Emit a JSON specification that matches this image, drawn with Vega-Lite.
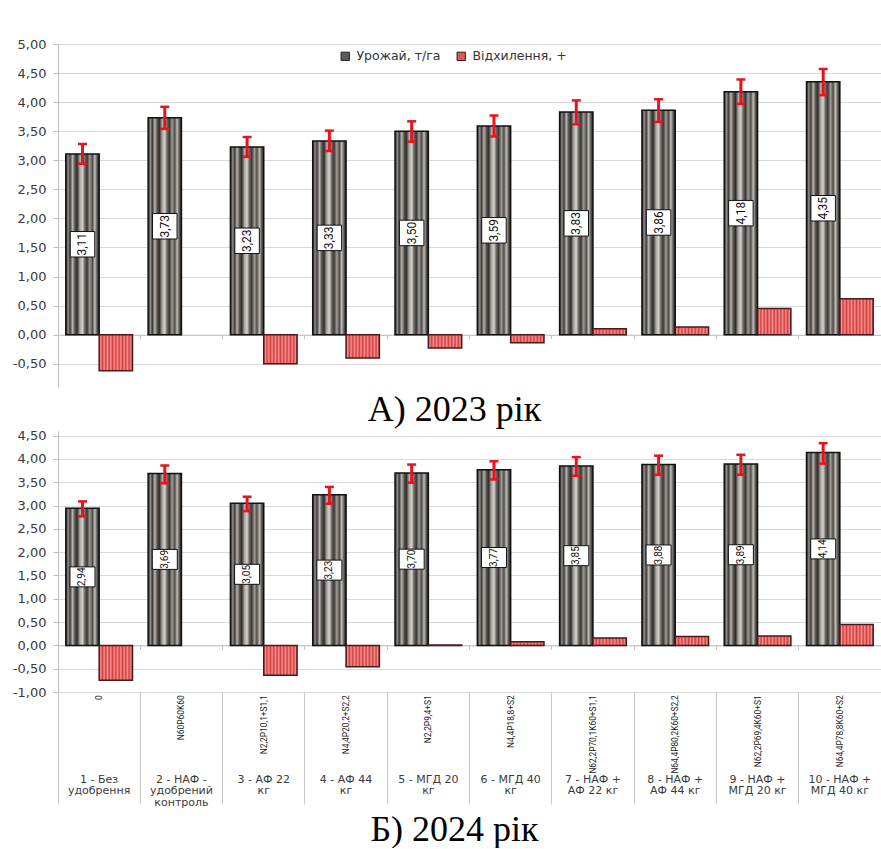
{
  "$schema": "https://vega.github.io/schema/vega-lite/v6.json",
  "background": "white",
  "padding": {"left": 12, "top": 38, "right": 0, "bottom": 0},
  "config": {
    "locale": {"number": {"decimal": ",", "thousands": " ", "grouping": [3], "currency": ["", ""], "minus": "-"}},
    "view": {"stroke": null},
    "axis": {
      "labelFont": "DejaVu Sans",
      "labelFontSize": 13,
      "labelColor": "#3a3a3a",
      "labelOverlap": false,
      "gridColor": "#d9d9d9",
      "domainColor": "#bdbdbd",
      "tickColor": "#bdbdbd"
    },
    "axisY": {"labelOverlap": false},
    "text": {"lineBreak": "\n"}
  },
  "datasets": {
    "y2023": [
      {"n": 1, "series": "Урожай, т/га", "value": 3.11, "lo": 2.94, "hi": 3.28},
      {"n": 1, "series": "Відхилення, +", "value": -0.62},
      {"n": 2, "series": "Урожай, т/га", "value": 3.73, "lo": 3.54, "hi": 3.92},
      {"n": 2, "series": "Відхилення, +", "value": 0.0},
      {"n": 3, "series": "Урожай, т/га", "value": 3.23, "lo": 3.06, "hi": 3.40},
      {"n": 3, "series": "Відхилення, +", "value": -0.50},
      {"n": 4, "series": "Урожай, т/га", "value": 3.33, "lo": 3.16, "hi": 3.51},
      {"n": 4, "series": "Відхилення, +", "value": -0.40},
      {"n": 5, "series": "Урожай, т/га", "value": 3.50, "lo": 3.32, "hi": 3.67},
      {"n": 5, "series": "Відхилення, +", "value": -0.23},
      {"n": 6, "series": "Урожай, т/га", "value": 3.59, "lo": 3.41, "hi": 3.77},
      {"n": 6, "series": "Відхилення, +", "value": -0.14},
      {"n": 7, "series": "Урожай, т/га", "value": 3.83, "lo": 3.62, "hi": 4.03},
      {"n": 7, "series": "Відхилення, +", "value": 0.10},
      {"n": 8, "series": "Урожай, т/га", "value": 3.86, "lo": 3.66, "hi": 4.05},
      {"n": 8, "series": "Відхилення, +", "value": 0.13},
      {"n": 9, "series": "Урожай, т/га", "value": 4.18, "lo": 3.97, "hi": 4.39},
      {"n": 9, "series": "Відхилення, +", "value": 0.45},
      {"n": 10, "series": "Урожай, т/га", "value": 4.35, "lo": 4.12, "hi": 4.57},
      {"n": 10, "series": "Відхилення, +", "value": 0.62}
    ],
    "y2024": [
      {"n": 1, "series": "Урожай, т/га", "value": 2.94, "lo": 2.77, "hi": 3.09},
      {"n": 1, "series": "Відхилення, +", "value": -0.75},
      {"n": 2, "series": "Урожай, т/га", "value": 3.69, "lo": 3.48, "hi": 3.86},
      {"n": 2, "series": "Відхилення, +", "value": 0.0},
      {"n": 3, "series": "Урожай, т/га", "value": 3.05, "lo": 2.88, "hi": 3.19},
      {"n": 3, "series": "Відхилення, +", "value": -0.64},
      {"n": 4, "series": "Урожай, т/га", "value": 3.23, "lo": 3.04, "hi": 3.40},
      {"n": 4, "series": "Відхилення, +", "value": -0.46},
      {"n": 5, "series": "Урожай, т/га", "value": 3.70, "lo": 3.49, "hi": 3.88},
      {"n": 5, "series": "Відхилення, +", "value": 0.01},
      {"n": 6, "series": "Урожай, т/га", "value": 3.77, "lo": 3.56, "hi": 3.95},
      {"n": 6, "series": "Відхилення, +", "value": 0.08},
      {"n": 7, "series": "Урожай, т/га", "value": 3.85, "lo": 3.64, "hi": 4.04},
      {"n": 7, "series": "Відхилення, +", "value": 0.16},
      {"n": 8, "series": "Урожай, т/га", "value": 3.88, "lo": 3.66, "hi": 4.07},
      {"n": 8, "series": "Відхилення, +", "value": 0.19},
      {"n": 9, "series": "Урожай, т/га", "value": 3.89, "lo": 3.66, "hi": 4.09},
      {"n": 9, "series": "Відхилення, +", "value": 0.20},
      {"n": 10, "series": "Урожай, т/га", "value": 4.14, "lo": 3.90, "hi": 4.34},
      {"n": 10, "series": "Відхилення, +", "value": 0.45}
    ],
    "labels": [
      {"n": 1, "row": "formula", "text": "0"},
      {"n": 2, "row": "formula", "text": "N60P60K60"},
      {"n": 3, "row": "formula", "text": "N2,2P10,1+S1,1"},
      {"n": 4, "row": "formula", "text": "N4,4P20,2+S2,2"},
      {"n": 5, "row": "formula", "text": "N2,2P9,4+S1"},
      {"n": 6, "row": "formula", "text": "N4,4P18,8+S2"},
      {"n": 7, "row": "formula", "text": "N62,2P70,1K60+S1,1"},
      {"n": 8, "row": "formula", "text": "N64,4P80,2K60+S2,2"},
      {"n": 9, "row": "formula", "text": "N62,2P69,4K60+S1"},
      {"n": 10, "row": "formula", "text": "N64,4P78,8K60+S2"},
      {"n": 1, "row": "name", "text": "1 - Без\nудобрення"},
      {"n": 2, "row": "name", "text": "2 - НАФ -\nудобрений\nконтроль"},
      {"n": 3, "row": "name", "text": "3 - АФ  22\nкг"},
      {"n": 4, "row": "name", "text": "4 - АФ  44\nкг"},
      {"n": 5, "row": "name", "text": "5 - МГД 20\nкг"},
      {"n": 6, "row": "name", "text": "6 - МГД 40\nкг"},
      {"n": 7, "row": "name", "text": "7 - НАФ +\nАФ 22 кг"},
      {"n": 8, "row": "name", "text": "8 - НАФ +\nАФ 44 кг"},
      {"n": 9, "row": "name", "text": "9 - НАФ +\nМГД 20 кг"},
      {"n": 10, "row": "name", "text": "10 - НАФ +\nМГД 40 кг"}
    ]
  },
  "bounds": "flush",
  "spacing": 44,
  "resolve": {"scale": {"x": "independent", "y": "independent", "fill": "independent", "xOffset": "independent"}, "legend": {"fill": "independent"}},
  "vconcat": [
    {
      "width": 823,
      "height": 343,
      "data": {"name": "y2023"},
      "title": {"text": "А) 2023 рік", "orient": "bottom", "anchor": "middle", "baseline": "top", "offset": 6, "dx": -15, "font": "Liberation Serif", "fontSize": 36, "fontWeight": "normal", "color": "#000000"},
      "encoding": {
        "x": {"field": "n", "type": "ordinal", "scale": {"type": "band", "paddingInner": 0.19, "paddingOuter": 0.095},
              "axis": {"orient": "bottom", "offset": -52.3, "labels": false, "title": null, "grid": false, "ticks": true, "tickSize": 4, "bandPosition": -0.117, "domainColor": "#c4c4c4", "tickColor": "#c4c4c4"}},
        "xOffset": {"field": "series", "type": "nominal", "scale": {"domain": ["Урожай, т/га", "Відхилення, +"], "paddingInner": 0, "paddingOuter": 0}}
      },
      "layer": [
        {
          "mark": {"type": "bar", "strokeWidth": 1.5},
          "encoding": {
            "y": {"field": "value", "type": "quantitative", "title": null,
                  "scale": {"domain": [-0.9, 5], "nice": false, "zero": false},
                  "axis": {"values": [-0.5, 0, 0.5, 1, 1.5, 2, 2.5, 3, 3.5, 4, 4.5, 5], "format": ".2f", "tickSize": 5, "labelPadding": 7, "grid": true, "labelFlush": false, "labelOverlap": false}},
            "fill": {
              "field": "series", "type": "nominal",
              "scale": {"domain": ["Урожай, т/га", "Відхилення, +"], "range": ["#5c5959", "#e25656"]},
              "legend": {"title": null, "orient": "none", "direction": "horizontal", "legendX": 281, "legendY": 6, "padding": 0,
                         "symbolType": "square", "symbolSize": 70, "symbolStrokeColor": "#222222", "symbolStrokeWidth": 1, "symbolOpacity": 1,
                         "labelFont": "DejaVu Sans", "labelFontSize": 12.5, "labelColor": "#333333", "columnPadding": 14, "labelOffset": 5},
              "condition": [
                {"test": "datum.series === 'Урожай, т/га'",
                 "value": {"gradient": "linear", "x1": 0, "y1": 0, "x2": 1, "y2": 0, "stops": [
                  {"offset": 0, "color": "#2b2929"},
                  {"offset": 0.07, "color": "#8d8987"},
                  {"offset": 0.13, "color": "#3f3c3b"},
                  {"offset": 0.2, "color": "#b9b5b1"},
                  {"offset": 0.27, "color": "#5b5754"},
                  {"offset": 0.34, "color": "#2f2d2c"},
                  {"offset": 0.42, "color": "#a8a4a0"},
                  {"offset": 0.5, "color": "#d4d1cc"},
                  {"offset": 0.57, "color": "#6b6764"},
                  {"offset": 0.64, "color": "#3a3837"},
                  {"offset": 0.72, "color": "#9f9b97"},
                  {"offset": 0.8, "color": "#4e4b49"},
                  {"offset": 0.87, "color": "#c2bfbb"},
                  {"offset": 0.94, "color": "#57534f"},
                  {"offset": 1, "color": "#2a2828"}]}},
                {"test": "datum.series === 'Відхилення, +'",
                 "value": {"gradient": "linear", "x1": 0, "y1": 0, "x2": 1, "y2": 0, "stops": [
                  {"offset": 0, "color": "#d83a3a"},
                  {"offset": 0.05, "color": "#f09494"},
                  {"offset": 0.1, "color": "#d83a3a"},
                  {"offset": 0.15, "color": "#f09494"},
                  {"offset": 0.2, "color": "#d83a3a"},
                  {"offset": 0.25, "color": "#f09494"},
                  {"offset": 0.3, "color": "#d83a3a"},
                  {"offset": 0.35, "color": "#f09494"},
                  {"offset": 0.4, "color": "#d83a3a"},
                  {"offset": 0.45, "color": "#f09494"},
                  {"offset": 0.5, "color": "#d83a3a"},
                  {"offset": 0.55, "color": "#f09494"},
                  {"offset": 0.6, "color": "#d83a3a"},
                  {"offset": 0.65, "color": "#f09494"},
                  {"offset": 0.7, "color": "#d83a3a"},
                  {"offset": 0.75, "color": "#f09494"},
                  {"offset": 0.8, "color": "#d83a3a"},
                  {"offset": 0.85, "color": "#f09494"},
                  {"offset": 0.9, "color": "#d83a3a"},
                  {"offset": 0.95, "color": "#f09494"},
                  {"offset": 1, "color": "#d83a3a"}]}}
              ]
            },
            "stroke": {"condition": [
              {"test": "datum.value === 0", "value": "transparent"},
              {"test": "datum.series === 'Урожай, т/га'", "value": "#111111"}], "value": "#4a1a1a"}
          }
        },
        {
          "transform": [{"filter": "datum.series === 'Урожай, т/га'"}],
          "mark": {"type": "rule", "color": "#e8141c", "strokeWidth": 3},
          "encoding": {"y": {"field": "lo", "type": "quantitative", "title": null, "axis": {"values": [-0.5, 0, 0.5, 1, 1.5, 2, 2.5, 3, 3.5, 4, 4.5, 5], "format": ".2f", "tickSize": 5, "labelPadding": 7, "grid": true, "labelFlush": false, "labelOverlap": false}}, "y2": {"field": "hi"}}
        },
        {
          "transform": [{"filter": "datum.series === 'Урожай, т/га'"}],
          "mark": {"type": "tick", "color": "#e8141c", "size": 9, "thickness": 2.5, "opacity": 1},
          "encoding": {"y": {"field": "hi", "type": "quantitative", "title": null, "axis": {"values": [-0.5, 0, 0.5, 1, 1.5, 2, 2.5, 3, 3.5, 4, 4.5, 5], "format": ".2f", "tickSize": 5, "labelPadding": 7, "grid": true, "labelFlush": false, "labelOverlap": false}}}
        },
        {
          "transform": [{"filter": "datum.series === 'Урожай, т/га'"}],
          "mark": {"type": "tick", "color": "#e8141c", "size": 9, "thickness": 2.5, "opacity": 1},
          "encoding": {"y": {"field": "lo", "type": "quantitative", "title": null, "axis": {"values": [-0.5, 0, 0.5, 1, 1.5, 2, 2.5, 3, 3.5, 4, 4.5, 5], "format": ".2f", "tickSize": 5, "labelPadding": 7, "grid": true, "labelFlush": false, "labelOverlap": false}}}
        },
        {
          "transform": [{"filter": "datum.series === 'Урожай, т/га'"}, {"calculate": "datum.value / 2", "as": "mid"}],
          "mark": {"type": "point", "shape": "M-1,-1.04H1V1.04H-1Z", "size": 600, "filled": true, "fill": "white", "stroke": "#111111", "strokeWidth": 1, "opacity": 1},
          "encoding": {"y": {"field": "mid", "type": "quantitative", "title": null, "axis": {"values": [-0.5, 0, 0.5, 1, 1.5, 2, 2.5, 3, 3.5, 4, 4.5, 5], "format": ".2f", "tickSize": 5, "labelPadding": 7, "grid": true, "labelFlush": false, "labelOverlap": false}}}
        },
        {
          "transform": [{"filter": "datum.series === 'Урожай, т/га'"}, {"calculate": "datum.value / 2", "as": "mid"}],
          "mark": {"type": "text", "angle": 270, "align": "center", "baseline": "middle", "font": "Roboto, Liberation Sans, sans-serif", "fontSize": 12, "color": "#111111"},
          "encoding": {"y": {"field": "mid", "type": "quantitative", "title": null, "axis": {"values": [-0.5, 0, 0.5, 1, 1.5, 2, 2.5, 3, 3.5, 4, 4.5, 5], "format": ".2f", "tickSize": 5, "labelPadding": 7, "grid": true, "labelFlush": false, "labelOverlap": false}}, "text": {"field": "value", "type": "quantitative", "format": ".2f"}}
        }
      ]
    },
    {
      "bounds": "flush",
      "spacing": 0,
      "resolve": {"scale": {"x": "independent", "y": "independent", "fill": "independent", "xOffset": "independent"}},
      "vconcat": [
        {
          "width": 823,
          "height": 261,
          "data": {"name": "y2024"},
          "encoding": {
            "x": {"field": "n", "type": "ordinal", "scale": {"type": "band", "paddingInner": 0.19, "paddingOuter": 0.095},
                  "axis": {"orient": "bottom", "offset": -46.6, "labels": false, "title": null, "grid": false, "ticks": true, "tickSize": 4, "bandPosition": -0.117, "domainColor": "#c4c4c4", "tickColor": "#c4c4c4"}},
            "xOffset": {"field": "series", "type": "nominal", "scale": {"domain": ["Урожай, т/га", "Відхилення, +"], "paddingInner": 0, "paddingOuter": 0}}
          },
          "layer": [
            {
              "mark": {"type": "bar", "strokeWidth": 1.5},
              "encoding": {
                "y": {"field": "value", "type": "quantitative", "title": null,
                      "scale": {"domain": [-1, 4.6], "nice": false, "zero": false},
                      "axis": {"values": [-1, -0.5, 0, 0.5, 1, 1.5, 2, 2.5, 3, 3.5, 4, 4.5], "format": ".2f", "tickSize": 5, "labelPadding": 7, "grid": true, "labelFlush": false, "labelOverlap": false}},
                "fill": {
                  "field": "series", "type": "nominal",
                  "scale": {"domain": ["Урожай, т/га", "Відхилення, +"], "range": ["#5c5959", "#e25656"]},
                  "legend": null,
                  "condition": [
                    {"test": "datum.series === 'Урожай, т/га'",
                     "value": {"gradient": "linear", "x1": 0, "y1": 0, "x2": 1, "y2": 0, "stops": [
                      {"offset": 0, "color": "#2b2929"},
                      {"offset": 0.07, "color": "#8d8987"},
                      {"offset": 0.13, "color": "#3f3c3b"},
                      {"offset": 0.2, "color": "#b9b5b1"},
                      {"offset": 0.27, "color": "#5b5754"},
                      {"offset": 0.34, "color": "#2f2d2c"},
                      {"offset": 0.42, "color": "#a8a4a0"},
                      {"offset": 0.5, "color": "#d4d1cc"},
                      {"offset": 0.57, "color": "#6b6764"},
                      {"offset": 0.64, "color": "#3a3837"},
                      {"offset": 0.72, "color": "#9f9b97"},
                      {"offset": 0.8, "color": "#4e4b49"},
                      {"offset": 0.87, "color": "#c2bfbb"},
                      {"offset": 0.94, "color": "#57534f"},
                      {"offset": 1, "color": "#2a2828"}]}},
                    {"test": "datum.series === 'Відхилення, +'",
                     "value": {"gradient": "linear", "x1": 0, "y1": 0, "x2": 1, "y2": 0, "stops": [
                      {"offset": 0, "color": "#d83a3a"},
                      {"offset": 0.05, "color": "#f09494"},
                      {"offset": 0.1, "color": "#d83a3a"},
                      {"offset": 0.15, "color": "#f09494"},
                      {"offset": 0.2, "color": "#d83a3a"},
                      {"offset": 0.25, "color": "#f09494"},
                      {"offset": 0.3, "color": "#d83a3a"},
                      {"offset": 0.35, "color": "#f09494"},
                      {"offset": 0.4, "color": "#d83a3a"},
                      {"offset": 0.45, "color": "#f09494"},
                      {"offset": 0.5, "color": "#d83a3a"},
                      {"offset": 0.55, "color": "#f09494"},
                      {"offset": 0.6, "color": "#d83a3a"},
                      {"offset": 0.65, "color": "#f09494"},
                      {"offset": 0.7, "color": "#d83a3a"},
                      {"offset": 0.75, "color": "#f09494"},
                      {"offset": 0.8, "color": "#d83a3a"},
                      {"offset": 0.85, "color": "#f09494"},
                      {"offset": 0.9, "color": "#d83a3a"},
                      {"offset": 0.95, "color": "#f09494"},
                      {"offset": 1, "color": "#d83a3a"}]}}
                  ]
                },
                "stroke": {"condition": [
                  {"test": "datum.value === 0", "value": "transparent"},
                  {"test": "datum.series === 'Урожай, т/га'", "value": "#111111"}], "value": "#4a1a1a"}
              }
            },
            {
              "transform": [{"filter": "datum.series === 'Урожай, т/га'"}],
              "mark": {"type": "rule", "color": "#e8141c", "strokeWidth": 3},
              "encoding": {"y": {"field": "lo", "type": "quantitative", "title": null, "axis": {"values": [-1, -0.5, 0, 0.5, 1, 1.5, 2, 2.5, 3, 3.5, 4, 4.5], "format": ".2f", "tickSize": 5, "labelPadding": 7, "grid": true, "labelFlush": false, "labelOverlap": false}}, "y2": {"field": "hi"}}
            },
            {
              "transform": [{"filter": "datum.series === 'Урожай, т/га'"}],
              "mark": {"type": "tick", "color": "#e8141c", "size": 9, "thickness": 2.5, "opacity": 1},
              "encoding": {"y": {"field": "hi", "type": "quantitative", "title": null, "axis": {"values": [-1, -0.5, 0, 0.5, 1, 1.5, 2, 2.5, 3, 3.5, 4, 4.5], "format": ".2f", "tickSize": 5, "labelPadding": 7, "grid": true, "labelFlush": false, "labelOverlap": false}}}
            },
            {
              "transform": [{"filter": "datum.series === 'Урожай, т/га'"}],
              "mark": {"type": "tick", "color": "#e8141c", "size": 9, "thickness": 2.5, "opacity": 1},
              "encoding": {"y": {"field": "lo", "type": "quantitative", "title": null, "axis": {"values": [-1, -0.5, 0, 0.5, 1, 1.5, 2, 2.5, 3, 3.5, 4, 4.5], "format": ".2f", "tickSize": 5, "labelPadding": 7, "grid": true, "labelFlush": false, "labelOverlap": false}}}
            },
            {
              "transform": [{"filter": "datum.series === 'Урожай, т/га'"}, {"calculate": "datum.value / 2", "as": "mid"}],
              "mark": {"type": "point", "shape": "M-1,-0.8H1V0.8H-1Z", "size": 625, "filled": true, "fill": "white", "stroke": "#111111", "strokeWidth": 1, "opacity": 1},
              "encoding": {"y": {"field": "mid", "type": "quantitative", "title": null, "axis": {"values": [-1, -0.5, 0, 0.5, 1, 1.5, 2, 2.5, 3, 3.5, 4, 4.5], "format": ".2f", "tickSize": 5, "labelPadding": 7, "grid": true, "labelFlush": false, "labelOverlap": false}}}
            },
            {
              "transform": [{"filter": "datum.series === 'Урожай, т/га'"}, {"calculate": "datum.value / 2", "as": "mid"}],
              "mark": {"type": "text", "angle": 270, "align": "center", "baseline": "middle", "font": "Roboto, Liberation Sans, sans-serif", "fontSize": 10, "color": "#111111"},
              "encoding": {"y": {"field": "mid", "type": "quantitative", "title": null, "axis": {"values": [-1, -0.5, 0, 0.5, 1, 1.5, 2, 2.5, 3, 3.5, 4, 4.5], "format": ".2f", "tickSize": 5, "labelPadding": 7, "grid": true, "labelFlush": false, "labelOverlap": false}}, "text": {"field": "value", "type": "quantitative", "format": ".2f"}}
            }
          ]
        },
        {
          "width": 823,
          "height": 112,
          "data": {"name": "labels"},
          "title": {"text": "Б) 2024 рік", "orient": "bottom", "anchor": "middle", "baseline": "top", "offset": 5, "dx": -15, "font": "Liberation Serif", "fontSize": 36, "fontWeight": "normal", "color": "#000000"},
          "encoding": {
            "x": {"field": "n", "type": "ordinal", "scale": {"type": "band", "paddingInner": 0, "paddingOuter": 0},
                  "axis": {"grid": true, "bandPosition": 0, "labels": false, "ticks": false, "domain": false, "title": null, "gridColor": "#c8c8c8"}}
          },
          "layer": [
            {
              "transform": [{"filter": "datum.row === 'formula'"}],
              "mark": {"type": "text", "angle": 270, "align": "right", "baseline": "middle", "font": "Roboto, Liberation Sans, sans-serif", "fontSize": 8.4, "color": "#222222"},
              "encoding": {
                "y": {"field": "row", "type": "nominal", "bandPosition": 0.06, "scale": {"type": "band", "domain": ["formula", "name"], "paddingInner": 0, "paddingOuter": 0}, "axis": null},
                "text": {"field": "text", "type": "nominal"}
              }
            },
            {
              "transform": [{"filter": "datum.row === 'name'"}],
              "mark": {"type": "text", "align": "center", "baseline": "top", "font": "DejaVu Sans", "fontSize": 11, "lineHeight": 11.5, "color": "#3a3a3a"},
              "encoding": {
                "y": {"field": "row", "type": "nominal", "bandPosition": 0.46, "scale": {"type": "band", "domain": ["formula", "name"], "paddingInner": 0, "paddingOuter": 0}, "axis": null},
                "text": {"field": "text", "type": "nominal"}
              }
            }
          ]
        }
      ]
    }
  ]
}
